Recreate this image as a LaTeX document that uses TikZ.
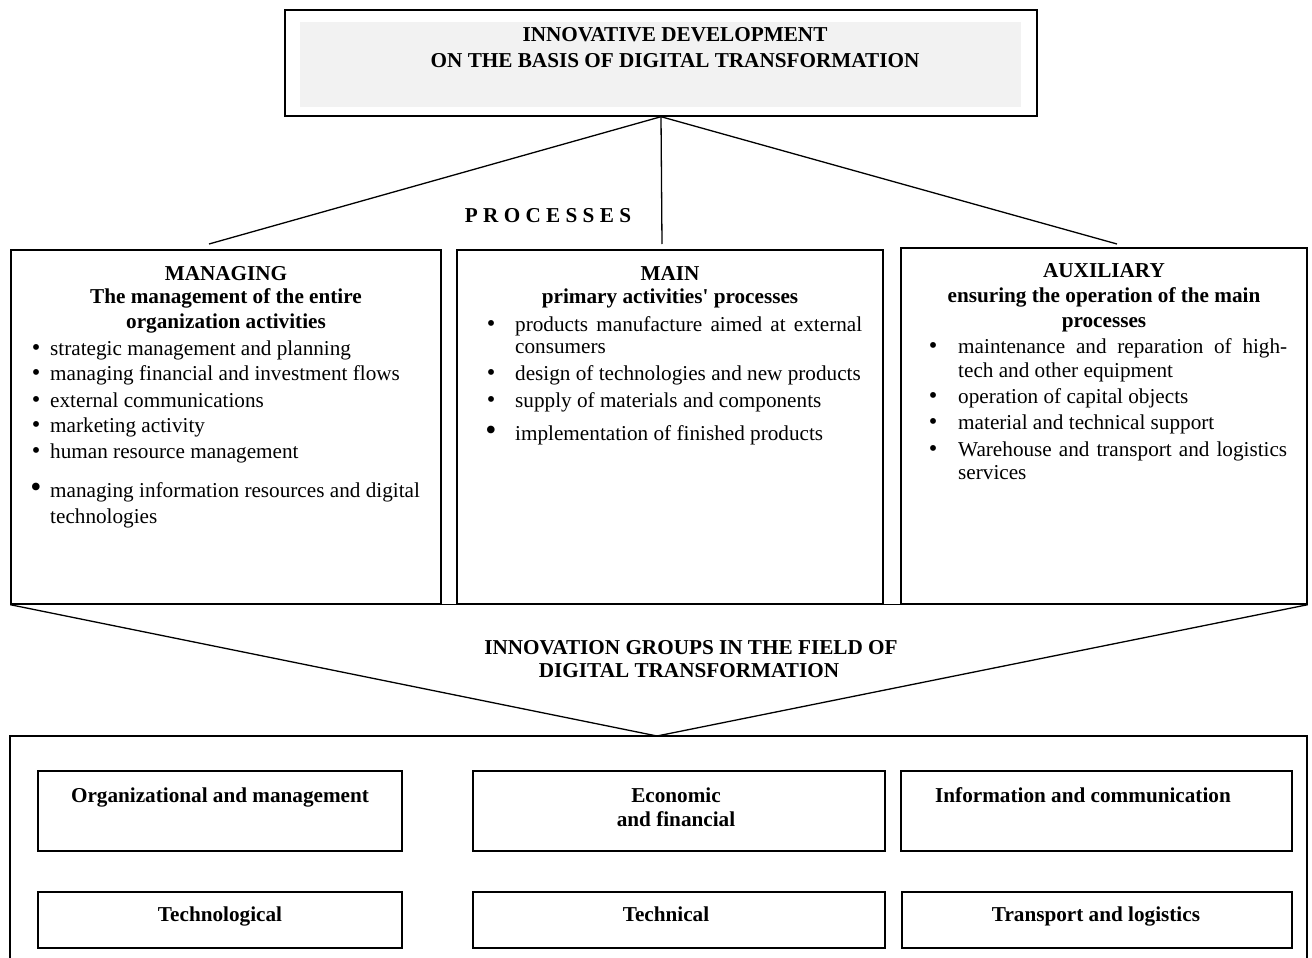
\documentclass[tikz,border=0pt]{standalone}
\usepackage{fontspec}
\setmainfont{Liberation Serif}
\begin{document}
\begin{tikzpicture}[x=1pt,y=-1pt,
  box/.style={draw, line width=1.4pt, inner sep=0pt},
  sbox/.style={draw, line width=1.1pt, inner sep=0pt},
  hd/.style={inner sep=0pt, anchor=base, font=\fontsize{21.2}{25}\selectfont\bfseries},
  itemL/.style={inner sep=0pt, anchor=base west, font=\fontsize{21.2}{25}\selectfont},
  conn/.style={draw, line width=1.3pt},
]
\useasboundingbox (0,0) rectangle (1312,958);
\fill[white] (0,0) rectangle (1312,958);
\newcommand{\bulA}{\llap{\scalebox{1.15}{•}\hspace{9.8pt}}}
\newcommand{\bulAB}{\llap{\scalebox{1.5}{•}\hspace{8.6pt}}}
\newcommand{\bulB}{\llap{\scalebox{1.15}{•}\hspace{19.8pt}}}
\newcommand{\bulBB}{\llap{\scalebox{1.5}{•}\hspace{18.6pt}}}
\newcommand{\bulC}{\llap{\scalebox{1.15}{•}\hspace{20.8pt}}}

% ---------- top box ----------
\node[box, minimum width=752pt, minimum height=106pt] (top) at (661,63) {};
\node[fill=black!5, inner sep=0pt, minimum width=721pt, minimum height=85pt] (topfill) at (660.5,64.5) {};
\node[hd] (title1) at (675,42) {INNOVATIVE DEVELOPMENT};
\node[hd] (title2) at (675,67) {ON THE BASIS OF DIGITAL TRANSFORMATION};

% ---------- process boxes ----------
\node[box, minimum width=430pt, minimum height=354pt] (managing) at (226,427) {};
\node[box, minimum width=426pt, minimum height=354pt] (main) at (670,427) {};
\node[box, minimum width=406pt, minimum height=356pt] (aux) at (1104,426) {};

% connectors from top box
\coordinate (cl) at (209,244);
\coordinate (cm) at (662,244);
\coordinate (cr) at (1117,244);
\draw[conn] (cl) -- (top.south) -- (cr);
\draw[conn] (top.south) -- (cm);

\node[hd] (proc) at (548,222) {P R O C E S S E S};

% managing box text
\node[hd] (mh1) at (226,280) {MANAGING};
\node[hd] (mh2) at (226,303) {The management of the entire};
\node[hd] (mh3) at (226,328) {organization activities};
\node[itemL] (mi1) at (50,355) {\bulA strategic management and planning};
\node[itemL] (mi2) at (50,380) {\bulA managing financial and investment flows};
\node[itemL] (mi3) at (50,407) {\bulA external communications};
\node[itemL] (mi4) at (50,432) {\bulA marketing activity};
\node[itemL] (mi5) at (50,458) {\bulA human resource management};
\node[itemL] (mi6) at (50,497) {\bulAB managing information resources and digital};
\node[itemL] (mi6b) at (50,523) {technologies};

% main box text
\node[hd] (ah1) at (670,280) {MAIN};
\node[hd] (ah2) at (670,303) {primary activities\textquotesingle{} processes};
\node[itemL] (ai1) at (515,331) {\bulB\makebox[347pt][s]{products manufacture aimed at external}};
\node[itemL] (ai1b) at (515,353) {consumers};
\node[itemL] (ai2) at (515,380) {\bulB design of technologies and new products};
\node[itemL] (ai3) at (515,407) {\bulB supply of materials and components};
\node[itemL] (ai4) at (515,440) {\bulBB implementation of finished products};

% auxiliary box text
\node[hd] (xh1) at (1104,277) {AUXILIARY};
\node[hd] (xh2) at (1104,302) {ensuring the operation of the main};
\node[hd] (xh3) at (1104,327) {processes};
\node[itemL] (xi1) at (958,353) {\bulC\makebox[329pt][s]{maintenance and reparation of high-}};
\node[itemL] (xi1b) at (958,377) {tech and other equipment};
\node[itemL] (xi2) at (958,403) {\bulC operation of capital objects};
\node[itemL] (xi3) at (958,429) {\bulC material and technical support};
\node[itemL] (xi4) at (958,456) {\bulC\makebox[329pt][s]{Warehouse and transport and logistics}};
\node[itemL] (xi4b) at (958,479) {services};

% ---------- funnel ----------
\coordinate (apex) at (657,736);
\draw[conn] (managing.south west) -- (aux.south east);
\draw[conn] (managing.south west) -- (apex) -- (aux.south east);
\node[hd] (g1) at (691,654) {INNOVATION GROUPS IN THE FIELD OF};
\node[hd] (g2) at (689,677) {DIGITAL TRANSFORMATION};

% ---------- bottom big box ----------
\node[box, line width=1.6pt, minimum width=1297pt, minimum height=232pt] (groups) at (658.5,852) {};

% small boxes
\node[sbox, minimum width=364pt, minimum height=80pt] (org) at (220,811) {};
\node[sbox, minimum width=412pt, minimum height=80pt] (econ) at (679,811) {};
\node[sbox, minimum width=391pt, minimum height=80pt] (info) at (1096.5,811) {};
\node[sbox, minimum width=364pt, minimum height=56pt] (techno) at (220,920) {};
\node[sbox, minimum width=412pt, minimum height=56pt] (tech) at (679,920) {};
\node[sbox, minimum width=390pt, minimum height=56pt] (trans) at (1097,920) {};

\node[hd] (orgT) at (220,802) {Organizational and management};
\node[hd] (econT1) at (676,802) {Economic};
\node[hd] (econT2) at (676,826) {and financial};
\node[hd] (infoT) at (1083,802) {Information and communication};
\node[hd] (technoT) at (220,921) {Technological};
\node[hd] (techT) at (666,921) {Technical};
\node[hd] (transT) at (1096,921) {Transport and logistics};
\end{tikzpicture}
\end{document}
